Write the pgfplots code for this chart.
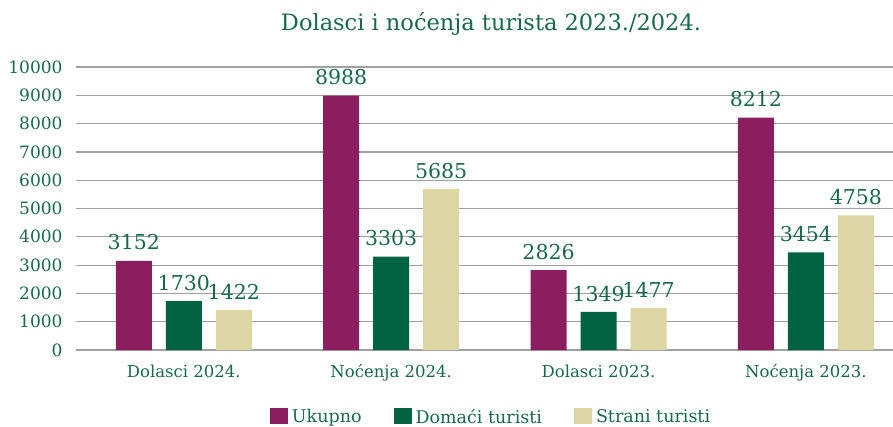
\documentclass[border=0pt]{standalone}
\usepackage{fontspec}
\setmainfont{DejaVu Serif}
\usepackage{pgfplots}
\pgfplotsset{compat=1.18}
\definecolor{cPurple}{HTML}{8B1E5E}
\definecolor{cGreen}{HTML}{006341}
\definecolor{cBeige}{HTML}{DDD5A3}
\definecolor{cText}{HTML}{17694B}
\definecolor{cGrid}{HTML}{A0A0A0}
\begin{document}
\begin{tikzpicture}
\path[use as bounding box] (0,0) rectangle (893pt,426pt);
\node[font=\fontsize{22.5}{24}\selectfont, text=cText] at (491pt,402pt) {Dolasci i noćenja turista 2023./2024.};
\begin{axis}[
  at={(76pt,76pt)}, anchor=south west,
  scale only axis, width=817pt, height=283pt,
  ybar=14pt, bar width=36pt,
  xmin=-0.52, xmax=3.42,
  ymin=0, ymax=10000,
  ytick={0,1000,...,10000},
  xtick={0,1,2,3},
  xticklabels={Dolasci 2024.,Noćenja 2024.,Dolasci 2023.,Noćenja 2023.},
  axis line style={draw=none},
  major tick length=0pt,
  ymajorgrids, grid style={cGrid, line width=1.2pt},
  scaled y ticks=false,
  /pgf/number format/assume math mode=true,
  yticklabel={\pgfmathprintnumber[fixed,precision=0,1000 sep={}]{\tick}},
  yticklabel style={font=\fontsize{17}{17}\selectfont, text=cText, xshift=-10pt},
  xticklabel style={font=\fontsize{16.5}{17}\selectfont, text=cText, yshift=-11pt},
  nodes near coords,
  nodes near coords style={font=\fontsize{20.5}{21}\selectfont, text=cText, yshift=7pt},
  point meta=explicit symbolic,
  legend columns=3,
  legend style={draw=none, fill=none, at={(0.508,-0.2367)}, anchor=center,
    font=\fontsize{17.5}{18}\selectfont, text=cText,
    /tikz/every even column/.append style={column sep=30pt},
    /tikz/every odd column/.append style={column sep=2pt}},
  legend image code/.code={\fill[#1,draw=none] (-3pt,-7pt) rectangle (15pt,9pt);},
]
\addplot[fill=cPurple, draw=none] coordinates {(0,3152)[3152] (1,8988)[8988] (2,2826)[2826] (3,8212)[8212]};
\addplot[fill=cGreen, draw=none] coordinates {(0,1730)[1730] (1,3303)[3303] (2,1349)[1349] (3,3454)[3454]};
\addplot[fill=cBeige, draw=none] coordinates {(0,1422)[1422] (1,5685)[5685] (2,1477)[1477] (3,4758)[4758]};
\legend{Ukupno,Domaći turisti,Strani turisti}
\end{axis}
\end{tikzpicture}
\end{document}
